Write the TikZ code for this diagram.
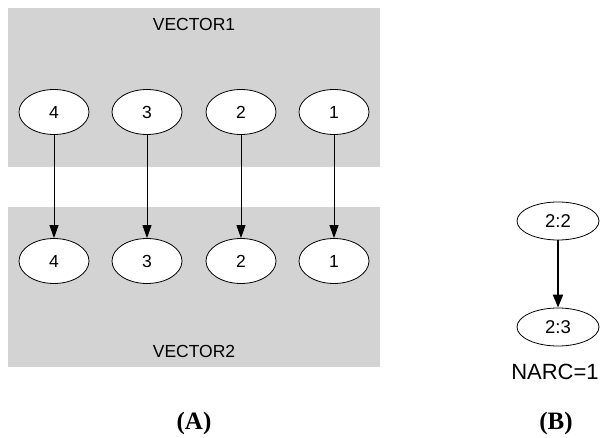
\documentclass[tikz,border=0pt]{standalone}
\usepackage{fontspec}
\setmainfont{Liberation Sans}
\newfontfamily\serifcap{Liberation Serif}
\usetikzlibrary{shapes.geometric,arrows.meta}
\definecolor{clustergray}{RGB}{211,211,211}
\begin{document}
\begin{tikzpicture}[
x=1pt, y=-1pt,
cluster/.style={fill=clustergray, draw=none},
elem/.style={ellipse, draw, fill=white, line width=.8pt, minimum width=70pt, minimum height=45pt, inner sep=0pt, font=\fontsize{17.5}{20}\selectfont},
pair/.style={elem, minimum width=82pt, minimum height=38pt, font=\fontsize{18.5}{20}\selectfont},
lbl/.style={font=\fontsize{17.5}{20}\selectfont},
caption/.style={font=\fontsize{25}{28}\selectfont\serifcap\bfseries},
link/.style={-{Triangle[length=13pt,width=9pt]}, line width=.8pt},
narc/.style={-{Triangle[length=13pt,width=10pt]}, line width=2pt}
]

\def\ya{112}
\def\yb{261}

\useasboundingbox (0,0) rectangle (602,438);

%%% VECTOR1 / VECTOR2
\fill[cluster] (8,8) rectangle (380,167);
\fill[cluster] (8,207) rectangle (380,367);
\node[lbl] (t1) at (194,24) {VECTOR1};
\node[lbl] (t2) at (194,351) {VECTOR2};

\foreach \i/\x in {4/54, 3/147, 2/241, 1/334}{
	\node[elem] (a\i) at (\x,\ya) {\i};
	\node[elem] (b\i) at (\x,\yb) {\i};
	\draw[link] (a\i) -- (b\i);
}

%%% NARC
\node[pair] (p) at (558,221) {2:2};
\node[pair] (q) at (558,327) {2:3};
\draw[narc] (p) -- (q);
\node[lbl, font=\fontsize{22}{24}\selectfont] (n) at (555,372) {NARC=1};

%%% captions
\node[caption] (A) at (194,423) {(A)};
\node[caption] (B) at (556,423) {(B)};

\end{tikzpicture}
\end{document}
